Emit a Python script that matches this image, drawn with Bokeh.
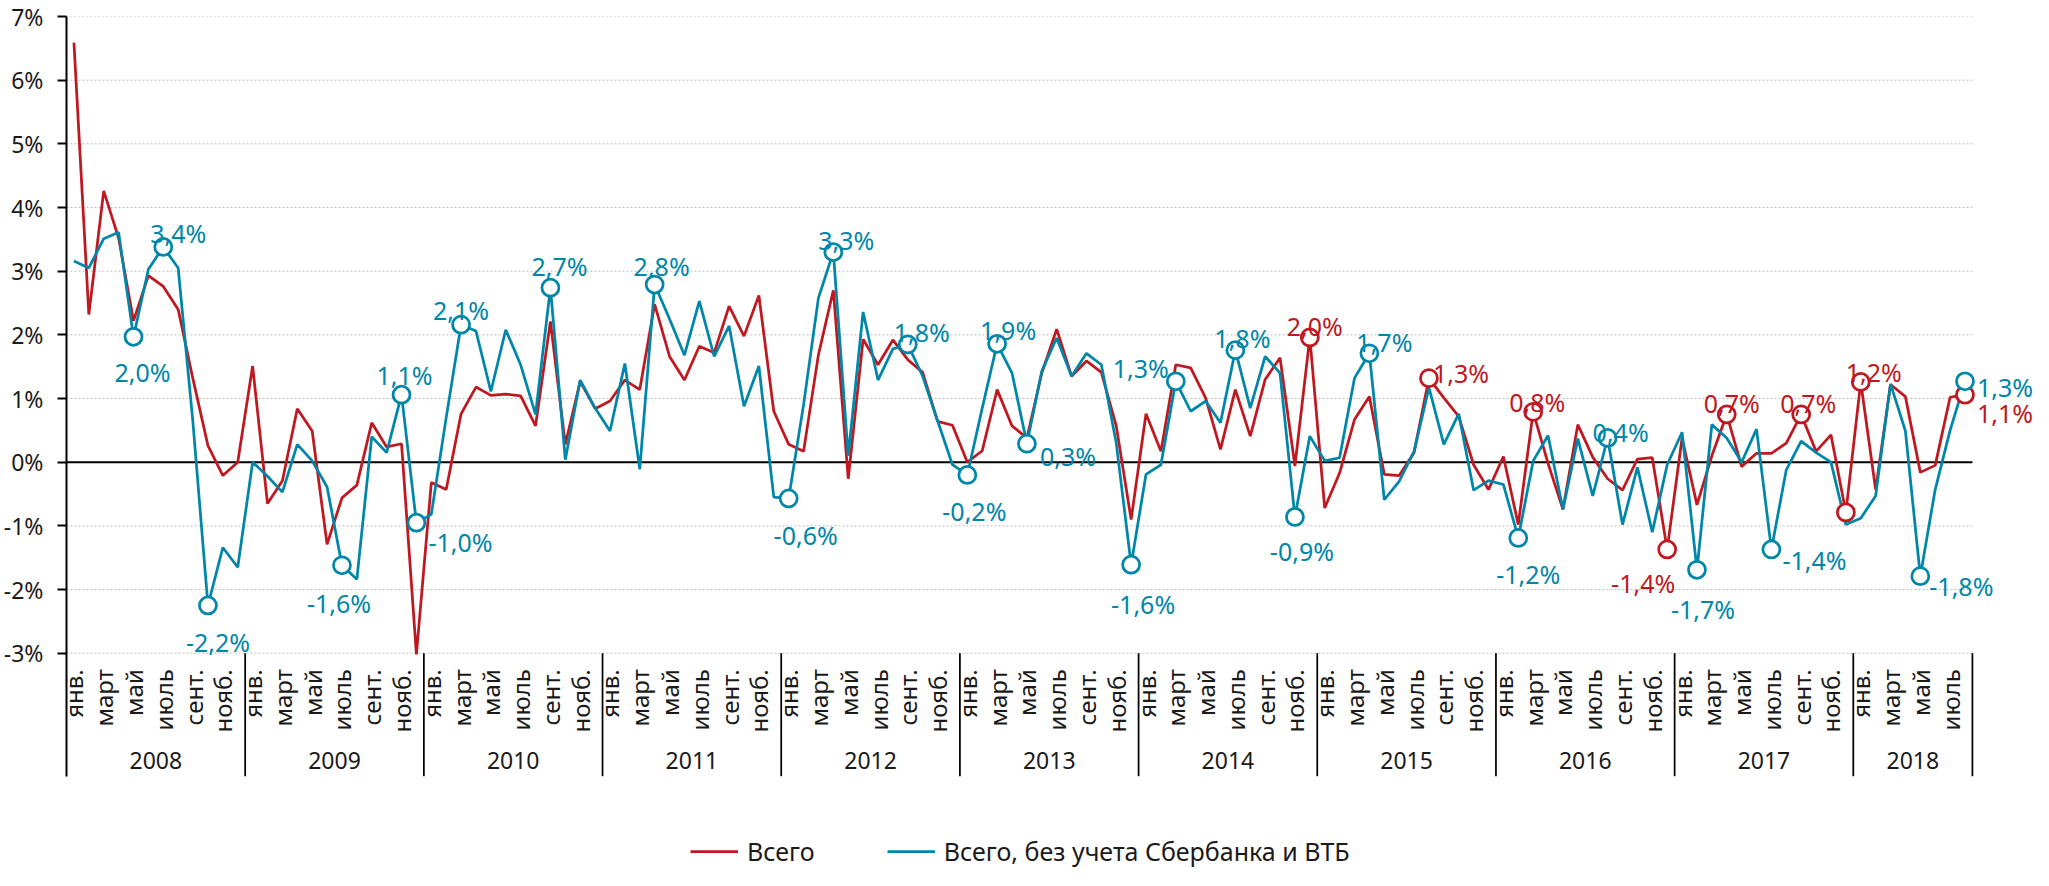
import math
from bokeh.plotting import figure
from bokeh.models import Range1d, FixedTicker, PrintfTickFormatter, Legend, LegendItem
from bokeh.core.properties import value
from bokeh.embed import file_html
from bokeh.resources import INLINE

# ---------------- data ----------------
years = ["2008", "2009", "2010", "2011", "2012", "2013", "2014", "2015", "2016", "2017", "2018"]
months_per_year = [12, 12, 12, 12, 12, 12, 12, 12, 12, 12, 8]
month_labels = ["янв.", "март", "май", "июль", "сент.", "нояб."]   # every second month is labelled
y_ticks = [-3, -2, -1, 0, 1, 2, 3, 4, 5, 6, 7]

series_names = ["Всего", "Всего, без учета Сбербанка и ВТБ"]

total = [
    6.59, 2.32, 4.26, 3.52, 2.22, 2.93, 2.76, 2.40, 1.30, 0.26, -0.21, 0.00,      # 2008
    1.51, -0.65, -0.29, 0.84, 0.49, -1.29, -0.56, -0.36, 0.62, 0.24, 0.29, -3.02,  # 2009
    -0.32, -0.43, 0.76, 1.18, 1.05, 1.07, 1.04, 0.57, 2.21, 0.28, 1.27, 0.84,      # 2010
    0.96, 1.29, 1.14, 2.48, 1.66, 1.29, 1.82, 1.72, 2.45, 1.98, 2.62, 0.80,        # 2011
    0.28, 0.17, 1.69, 2.70, -0.26, 1.93, 1.53, 1.92, 1.61, 1.41, 0.64, 0.58,       # 2012
    0.00, 0.18, 1.14, 0.57, 0.38, 1.40, 2.09, 1.35, 1.59, 1.41, 0.57, -0.90,       # 2013
    0.76, 0.17, 1.53, 1.48, 1.01, 0.20, 1.14, 0.41, 1.30, 1.64, -0.06, 1.96,       # 2014
    -0.72, -0.17, 0.67, 1.03, -0.19, -0.21, 0.15, 1.32, 1.01, 0.72, -0.04, -0.43,  # 2015
    0.09, -0.98, 0.79, -0.02, -0.74, 0.59, 0.08, -0.26, -0.44, 0.05, 0.07, -1.37,  # 2016
    0.38, -0.67, 0.10, 0.75, -0.07, 0.14, 0.14, 0.30, 0.75, 0.17, 0.43, -0.79,    # 2017
    1.26, -0.43, 1.22, 1.03, -0.16, -0.05, 1.02, 1.06,                             # 2018
]

ex_sber_vtb = [
    3.16, 3.05, 3.51, 3.61, 1.97, 3.03, 3.38, 3.05, 0.60, -2.25, -1.34, -1.65,     # 2008
    0.00, -0.22, -0.47, 0.28, 0.02, -0.39, -1.62, -1.84, 0.40, 0.15, 1.06, -0.95,  # 2009
    -0.82, 0.70, 2.16, 2.06, 1.11, 2.08, 1.53, 0.75, 2.74, 0.04, 1.29, 0.85,       # 2010
    0.49, 1.55, -0.11, 2.79, 2.25, 1.68, 2.53, 1.66, 2.14, 0.88, 1.51, -0.55,      # 2011
    -0.57, 0.90, 2.58, 3.30, 0.10, 2.36, 1.29, 1.78, 1.85, 1.35, 0.65, -0.04,      # 2012
    -0.20, 0.85, 1.86, 1.40, 0.29, 1.43, 1.95, 1.35, 1.71, 1.53, 0.30, -1.61,      # 2013
    -0.19, -0.04, 1.27, 0.80, 0.96, 0.62, 1.76, 0.85, 1.66, 1.40, -0.86, 0.41,     # 2014
    0.02, 0.07, 1.32, 1.71, -0.59, -0.30, 0.17, 1.17, 0.28, 0.76, -0.44, -0.29,    # 2015
    -0.35, -1.19, 0.02, 0.42, -0.74, 0.37, -0.53, 0.38, -0.98, -0.08, -1.10, -0.04,  # 2016
    0.47, -1.69, 0.59, 0.38, 0.00, 0.52, -1.37, -0.12, 0.33, 0.15, 0.00, -0.98,    # 2017
    -0.88, -0.53, 1.23, 0.49, -1.79, -0.43, 0.50, 1.27,                            # 2018
]

# highlighted points (month index) and their printed labels
blue_marks = [4, 6, 9, 18, 22, 23, 26, 32, 39, 48, 51, 56, 60, 62, 64, 71, 74, 78, 82, 87,
              97, 103, 109, 114, 124, 127]
blue_mark_text = ["2,0%", "3,4%", "-2,2%", "-1,6%", "1,1%", "-1,0%", "2,1%", "2,7%", "2,8%",
                  "-0,6%", "3,3%", "1,8%", "-0,2%", "1,9%", "0,3%", "-1,6%", "1,3%", "1,8%",
                  "-0,9%", "1,7%", "-1,2%", "0,4%", "-1,7%", "-1,4%", "-1,8%", "1,3%"]
red_marks = [83, 91, 98, 107, 111, 116, 119, 120, 127]
red_mark_text = ["2,0%", "1,3%", "0,8%", "-1,4%", "0,7%", "0,7%", "", "1,2%", "1,1%"]

# ---------------- styles / layout ----------------
RED = "#BF1820"
BLUE = "#0086A8"
INK = "#1A1A1A"
GRID = "#BDBDBD"
FONT = "Noto Sans"

W, H = 2033, 870
LEFT, TOP = 66, 16
PX_X = 14.89      # pixels per month
PX_Y = 63.67      # pixels per percentage point

n = len(total)
xs = list(range(n))
x_start = -0.5
x_end = x_start + (W - LEFT) / PX_X
y_top = max(y_ticks)
y_start = y_top - (H - TOP) / PX_Y
axis_bottom = min(y_ticks) - 123 / PX_Y
x_last = n - 0.5

# label placement: (align, dx px, dy px to digit baseline)
blue_place = {
    4: ("center", 9, 35), 6: ("center", 15, -14), 9: ("center", 10, 37), 18: ("center", -3, 38),
    22: ("center", 3, -20), 23: ("left", 12, 19), 26: ("center", 0, -15), 32: ("center", 9, -22),
    39: ("center", 7, -19), 48: ("center", 17, 37), 51: ("center", 13, -12), 56: ("center", 14, -12),
    60: ("center", 7, 36), 62: ("center", 11, -14), 64: ("left", 13, 12), 71: ("center", 12, 39),
    74: ("right", -7, -13), 78: ("center", 7, -12), 82: ("center", 7, 34), 87: ("center", 15, -11),
    97: ("center", 10, 36), 103: ("center", 13, -6), 109: ("center", 6, 39), 114: ("left", 11, 11),
    124: ("left", 9, 10), 127: ("left", 12, 6),
}
red_place = {
    83: ("center", 5, -11), 91: ("center", 32, -5), 98: ("center", 4, -10), 107: ("center", -24, 34),
    111: ("center", 5, -11), 116: ("center", 7, -11), 119: ("center", 0, 0), 120: ("center", 13, -10),
    127: ("left", 12, 18),
}

p = figure(width=W, height=H,
           x_range=Range1d(x_start, x_end), y_range=Range1d(y_start, y_top),
           output_backend="svg", toolbar_location=None, x_axis_location=None,
           min_border_left=LEFT, min_border_right=0, min_border_top=TOP, min_border_bottom=0,
           background_fill_color="white", border_fill_color="white")
p.outline_line_color = None
p.grid.visible = False

ya = p.yaxis[0]
ya.ticker = FixedTicker(ticks=y_ticks)
ya.formatter = PrintfTickFormatter(format="%d%%")
ya.bounds = (axis_bottom, y_top)
ya.axis_line_width = 2
ya.axis_line_color = "black"
ya.major_tick_line_width = 2
ya.major_tick_line_color = "black"
ya.major_tick_out = 9
ya.major_tick_in = 0
ya.minor_tick_out = 0
ya.minor_tick_in = 0
ya.major_label_text_font = FONT
ya.major_label_text_font_size = "23px"
ya.major_label_text_color = INK
ya.major_label_standoff = 14

# horizontal grid lines (dotted) limited to the data span
p.segment(x0=[x_start] * len(y_ticks), y0=y_ticks, x1=[x_last] * len(y_ticks), y1=y_ticks,
          line_color=GRID, line_width=1, line_dash="2 2")
# zero line
p.segment(x0=[x_start], y0=[0], x1=[x_last], y1=[0], line_color="black", line_width=2)

# year separators below the plot area
seps = []
b = x_start
for m in months_per_year:
    b += m
    seps.append(b)
p.segment(x0=seps, y0=[min(y_ticks)] * len(seps), x1=seps, y1=[axis_bottom] * len(seps),
          line_color="black", line_width=1.75)

# month labels (vertical)
mx = [i for i in xs if i % 2 == 0]
mt = [month_labels[(i % 12) // 2] for i in mx]
p.text(x=mx, y=[min(y_ticks) - 16 / PX_Y] * len(mx), text=mt, angle=math.pi / 2,
       text_align="right", text_baseline="middle",
       text_font=value(FONT), text_font_size="24px", text_color=INK)

# year labels
centers = []
start = 0
for m in months_per_year:
    centers.append(start + (m - 1) / 2)
    start += m
p.text(x=centers, y=[min(y_ticks) - 107 / PX_Y] * len(centers), text=years,
       text_align="center", text_baseline="middle",
       text_font=value(FONT), text_font_size="23px", text_color=INK)

# series lines
r_red = p.line(xs, total, line_color=RED, line_width=2.75)
r_blue = p.line(xs, ex_sber_vtb, line_color=BLUE, line_width=2.75)

# highlighted points
p.scatter([i for i in red_marks], [total[i] for i in red_marks], marker="circle", size=17,
          fill_color="white", line_color=RED, line_width=2.75)
p.scatter([i for i in blue_marks], [ex_sber_vtb[i] for i in blue_marks], marker="circle", size=17,
          fill_color="white", line_color=BLUE, line_width=2.75)

for marks, texts, series, place, color in [
        (red_marks, red_mark_text, total, red_place, RED),
        (blue_marks, blue_mark_text, ex_sber_vtb, blue_place, BLUE)]:
    for idx, txt in zip(marks, texts):
        if not txt:
            continue
        align, dx, dy = place[idx]
        p.text(x=[idx], y=[series[idx]], text=[txt], x_offset=dx, y_offset=dy,
               text_align=align, text_baseline="alphabetic",
               text_font=value(FONT), text_font_size="25px", text_color=color)

legend = Legend(items=[LegendItem(label=series_names[0], renderers=[r_red]),
                       LegendItem(label=series_names[1], renderers=[r_blue])],
                location=(624, 2), orientation="horizontal",
                glyph_width=48, glyph_height=20, label_standoff=9, spacing=72,
                padding=0, margin=0, border_line_color=None, background_fill_alpha=0,
                label_text_font=FONT, label_text_font_size="25px", label_text_color=INK)
p.add_layout(legend)

with open("out.html", "w", encoding="utf-8") as f:
    f.write(file_html(p, INLINE))
